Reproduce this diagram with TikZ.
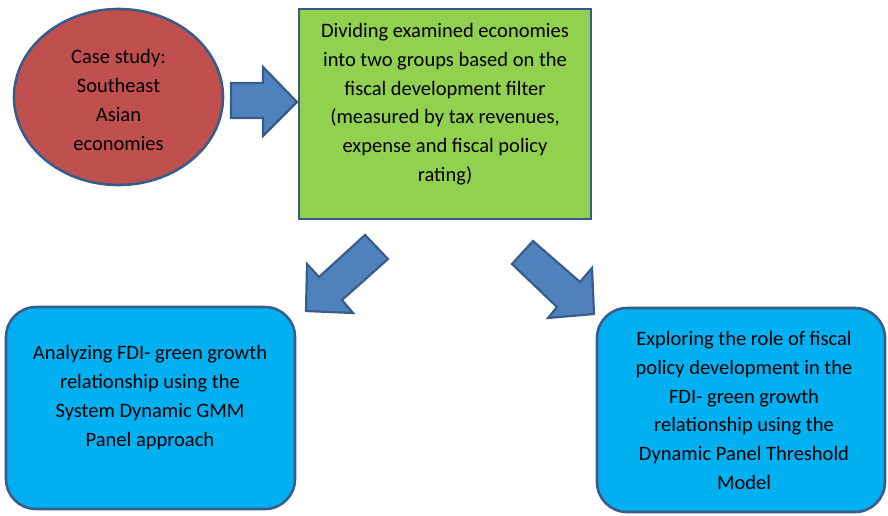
\documentclass[tikz,border=0pt]{standalone}
\usepackage{fontspec}
\setmainfont{Carlito}
\usetikzlibrary{shapes.geometric}
\definecolor{bord}{HTML}{385D8A}
\definecolor{redf}{HTML}{C0504D}
\definecolor{greenf}{HTML}{92D050}
\definecolor{bluef}{HTML}{00B0F0}
\definecolor{arrf}{HTML}{4F81BD}
\tikzset{
  shp/.style={draw=bord, line width=2.6pt, inner sep=0pt, outer sep=0pt},
  txt/.style={align=center, inner sep=0pt, font=\fontsize{20.5}{28.7}\selectfont, text=black},
  blockarrow/.style={draw=bord, fill=arrf, line width=2.2pt, line join=miter},
}
\begin{document}
\begin{tikzpicture}[x=1pt,y=-1pt]
\useasboundingbox (0,0) rectangle (888,515);
% shapes
\node[shp, ellipse, fill=redf, minimum width=209pt, minimum height=176pt] (case) at (118.5,97) {};
\node[shp, rectangle, fill=greenf, minimum width=292pt, minimum height=210pt] (divide) at (445,114) {};
\node[shp, rectangle, rounded corners=30pt, fill=bluef, minimum width=289pt, minimum height=202pt] (gmm) at (150.5,408) {};
\node[shp, rectangle, rounded corners=30pt, fill=bluef, minimum width=288pt, minimum height=204pt] (thr) at (741,410) {};
% texts
\node[txt] (casetxt) at (118.5,100) {Case study:\\Southeast\\Asian\\economies};
\node[txt] (dividetxt) at (445,104) {Dividing examined economies\\into two groups based on the\\fiscal development filter\\(measured by tax revenues,\\expense and fiscal policy\\rating)};
\node[txt] (gmmtxt) at (150,397.5) {Analyzing FDI- green growth\\relationship using the\\System Dynamic GMM\\Panel approach};
\node[txt] (thrtxt) at (744,410.5) {Exploring the role of fiscal\\policy development in the\\FDI- green growth\\relationship using the\\Dynamic Panel Threshold\\Model};
% block arrows
\draw[blockarrow] (231,83) -- (263,83) -- (263,67) -- (297,102) -- (263,136) -- (263,118) -- (231,118) -- cycle;
\draw[blockarrow] (365,235) -- (388,259) -- (342,300) -- (353,313) -- (306,311) -- (307,264) -- (319,277) -- cycle;
\draw[blockarrow] (533,241) -- (580,282) -- (592,268) -- (594,314) -- (548,318) -- (557,307) -- (512,264) -- cycle;
\end{tikzpicture}
\end{document}
